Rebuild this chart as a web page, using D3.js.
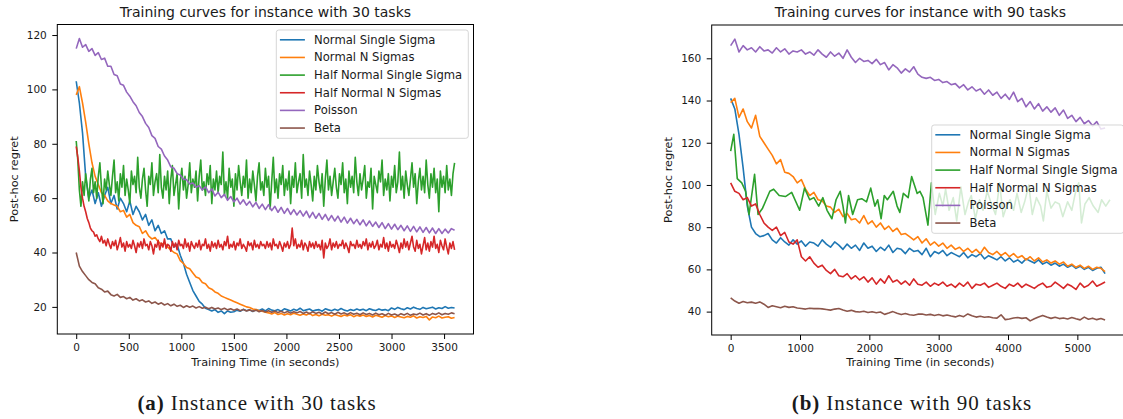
<!DOCTYPE html>
<html>
<head>
<meta charset="utf-8">
<script src="https://cdn.jsdelivr.net/npm/d3@7"></script>
<style>
  body { margin: 0; background: #fff; }
  svg { display: block; }
  text { font-family: "DejaVu Sans", sans-serif; fill: #1a1a1a; }
  text.caption { font-family: "Liberation Serif", serif; }
</style>
</head>
<body>
<svg id="fig" width="1123" height="419"></svg>
<script>
// ---------- shared series info ----------
const seriesNames = ["Normal Single Sigma", "Normal N Sigmas", "Half Normal Single Sigma",
                     "Half Normal N Sigmas", "Poisson", "Beta"];
const seriesColors = ["#1f77b4", "#ff7f0e", "#2ca02c", "#d62728", "#9467bd", "#8c564b"];

// ---------- 30-task instance (0 .. 3600 s) ----------
// most runs logged every 30 s, the two half-normal runs every 15 s
const times30 = d3.range(0, 3601, 30);
const times15 = d3.range(0, 3601, 15);
const normalSingle30 = [
  103, 95, 84, 68, 60, 63, 58, 62, 57, 61,
  64, 58, 61, 56, 60, 58, 55, 59, 54, 57,
  55, 52, 54, 50, 52, 48, 50, 47, 48, 45,
  45, 42, 43, 39, 36, 32, 29, 26, 24, 22,
  21, 19.5, 19, 18.5, 19, 18, 18.5, 17.5, 18.5, 18,
  18.2, 18.8, 18.4, 19.1, 18.6, 18.9, 18.3, 19.0, 18.7, 19.2,
  18.5, 19.4, 18.8, 18.6, 19.0, 18.4, 19.3, 18.9, 18.5, 19.1,
  18.7, 19.5, 18.6, 18.9, 19.2, 18.5, 18.8, 19.0, 18.4, 19.3,
  18.9, 18.6, 19.1, 18.7, 19.4, 18.8, 18.5, 19.0, 18.7, 19.2,
  18.8, 19.1, 18.6, 19.3, 18.9, 18.7, 19.2, 18.8, 19.0, 18.6,
  19.6, 19.1, 19.8, 19.3, 19.0, 19.7, 19.2, 19.9, 19.4, 19.1,
  19.8, 19.3, 19.6, 19.9, 19.2, 19.7, 19.4, 20.1, 19.5, 19.8,
  19.6
];
const normalN30 = [
  98, 101, 95, 88, 80, 73, 68, 65, 62, 61,
  59, 58, 57.5, 57, 55, 55.5, 53, 54, 51, 50,
  49.5, 47, 48, 46, 45, 45.5, 44, 43, 43.5, 42,
  41, 40, 39.5, 37, 36, 34.5, 34, 32.5, 31, 30.5,
  29, 28.5, 27, 26.5, 25.5, 25, 24, 23.5, 23, 22.5,
  22, 21.5, 21, 20.5, 20, 19.8, 19.2, 19.0, 18.6, 18.4,
  18.0, 17.8, 17.4, 17.9, 17.2, 17.6, 17.0, 17.5, 17.1, 17.7,
  17.3, 16.9, 17.4, 17.0, 17.6, 16.8, 17.2, 16.7, 17.3, 16.9,
  17.1, 16.6, 17.2, 16.8, 16.5, 17.0, 16.7, 17.1, 16.4, 16.9,
  16.6, 17.0, 16.5, 16.8, 16.3, 16.9, 16.6, 16.2, 16.8, 16.4,
  16.7, 16.1, 16.6, 16.3, 16.0, 16.5, 16.2, 16.7, 15.9, 16.4,
  16.1, 16.5, 15.2, 16.3, 16.0, 16.6, 15.9, 16.2, 16.4, 15.8,
  16.1
];
const halfNormalSingle30 = [
  81, 74, 63, 57, 66, 61, 69, 64, 59, 67,
  71, 62, 66, 60, 68, 73, 64, 58, 67, 63,
  70, 65, 61, 68, 74, 62, 66, 59, 69, 64,
  72, 61, 67, 63, 58, 70, 65, 68, 62, 75,
  64, 60, 67, 71, 63, 57, 68, 65, 73, 61,
  66, 69, 62, 76, 64, 60, 68, 63, 70, 58,
  67, 72, 61, 65, 69, 56, 66, 71, 63, 68,
  60, 65, 73, 62, 67, 64, 70, 59, 68, 74,
  63, 66, 61, 69, 65, 72, 58, 67, 63, 70,
  62, 68, 65, 77, 61, 66, 60, 71, 64, 67,
  57, 69, 63, 72, 66, 61, 68, 64, 74, 60,
  67, 62, 70, 65, 59, 68, 73, 63, 66, 61,
  71, 64, 68, 56, 66, 75, 62, 67, 60, 69,
  65, 72, 61, 67, 63, 70, 58, 68, 64, 73,
  62, 66, 69, 60, 76, 64, 67, 61, 70, 65,
  59, 68, 63, 72, 66, 62, 69, 57, 67, 74,
  63, 68, 61, 66, 71, 64, 60, 69, 65, 73,
  62, 67, 58, 70, 64, 68, 62, 75, 66, 61,
  69, 63, 67, 72, 60, 66, 64, 71, 56, 68,
  65, 62, 70, 66, 74, 61, 67, 63, 69, 59,
  68, 64, 72, 62, 66, 77, 63, 68, 60, 70,
  65, 61, 67, 73, 64, 69, 58, 66, 71, 63,
  68, 62, 74, 65, 60, 69, 64, 71, 62, 67,
  55, 70, 64, 68, 62, 72, 63, 67, 61, 69,
  73
];
const halfNormalN30 = [
  79, 75, 70, 64, 60, 57, 55, 52.5, 51, 49,
  48, 47.5, 46, 46.5, 45, 44, 46, 43.5, 44.5, 42.5,
  45, 43, 41.5, 44, 42.5, 44.5, 41, 43, 45.5, 42,
  43.5, 40.5, 44, 42, 43, 41.5, 44.5, 42.5, 40, 43.5,
  42, 44, 41.5, 45, 42.5, 43, 41, 44, 42.5, 39.5,
  43, 42, 44.5, 41, 43.5, 42, 45, 41.5, 43, 42.5,
  40.5, 44, 42, 43.5, 41, 44.5, 42.5, 43, 41.5, 45,
  42, 43.5, 40.5, 44, 42.5, 41.5, 43.5, 42, 44.5, 41,
  43, 42.5, 45, 41.5, 43, 40.5, 44, 42, 43.5, 41.5,
  44.5, 42, 43, 41, 44, 42.5, 46, 41.5, 43, 42,
  44, 41, 43.5, 42.5, 45, 41.5, 43, 42, 40.5, 44,
  42.5, 43.5, 41, 44.5, 42, 43, 41.5, 44, 42.5, 43,
  41.5, 44, 42, 43.5, 41, 45, 42.5, 43, 41.5, 44,
  42.5, 40.5, 43.5, 42, 44, 41.5, 43, 49, 42.5, 45,
  41.5, 43, 42, 44.5, 41, 43.5, 42.5, 40.5, 44, 42,
  43.5, 41.5, 44, 42, 43, 41, 44.5, 38, 43.5, 41.5,
  42.5, 45, 41, 43.5, 42, 44, 41.5, 43, 42.5, 44.5,
  41.5, 43.5, 42, 40, 44, 42.5, 43, 41.5, 44.5, 42,
  43, 41.5, 44, 42.5, 45, 41, 43.5, 42, 44, 41.5,
  42.5, 44.5, 41, 43, 42, 45.5, 41.5, 43.5, 40.5, 44,
  42, 43, 41.5, 44.5, 42.5, 40, 43.5, 41.5, 45, 42,
  44, 41, 43.5, 46, 42, 40.5, 44.5, 41.5, 43, 39.5,
  42.5, 45.5, 41, 43.5, 40.5, 44, 42, 46, 41.5, 43,
  40, 44.5, 42.5, 41, 45, 42, 39.5, 43.5, 41.5, 44,
  41
];
const poisson30 = [
  115, 118.7, 115.5, 116.5, 114, 115, 112.5, 113.5, 111, 111.5,
  108.5, 108.5, 105.5, 105, 102, 101.5, 99, 97.5, 95.5, 94,
  91.5, 90, 87.5, 86, 83, 82, 79, 78, 75.5, 74,
  71.5, 71, 69, 68.5, 67, 66.8, 65.2, 65.6, 64, 64.6,
  63, 64.2, 62, 63.4, 60.8, 62.2, 60.2, 61.4, 59.2, 60.6,
  58.6, 60, 57.8, 59.4, 57.4, 58.8, 56.8, 58.4, 56.2, 57.8,
  55.8, 57.6, 55.4, 57, 54.8, 56.6, 54.4, 56.2, 54, 55.8,
  53.8, 55.4, 53.4, 55.2, 52.8, 54.8, 52.6, 54.4, 52.2, 54,
  51.8, 53.6, 51.6, 53.4, 51.2, 53, 50.8, 52.6, 50.6, 52.2,
  50.2, 52, 49.8, 51.6, 49.6, 51.2, 49.2, 51, 48.8, 50.6,
  48.6, 50.4, 48.4, 50, 48, 49.8, 47.8, 49.6, 47.6, 49.4,
  47.4, 49.2, 47.2, 49, 47, 48.8, 47, 48.6, 47.2, 48.8,
  48.2
];
const beta30 = [
  40, 35, 33, 31.5, 30, 29, 28.5, 27, 26.5, 25.5,
  25.8, 24.5, 24, 24.6, 23.5, 23.8, 23, 23.5, 22.5, 23,
  22.2, 22.6, 21.8, 22.2, 21.3, 21.8, 21, 21.5, 20.7, 21.2,
  20.4, 21, 20.2, 20.6, 19.8, 20.4, 19.9, 20.3, 19.6, 20.1,
  19.5, 19.9, 19.3, 19.8, 19.2, 19.6, 19.0, 19.5, 18.9, 19.3,
  18.8, 19.2, 18.6, 19.0, 18.5, 18.9, 18.4, 18.8, 18.2, 18.7,
  18.1, 18.6, 18.0, 18.5, 17.9, 18.4, 17.8, 18.3, 17.7, 18.2,
  17.8, 18.3, 17.6, 18.1, 17.5, 18.2, 17.6, 18.0, 17.4, 18.1,
  17.5, 17.9, 17.3, 18.0, 17.4, 17.8, 17.2, 17.9, 17.3, 17.7,
  17.1, 17.8, 17.2, 17.6, 17.0, 17.7, 17.1, 17.5, 16.9, 17.6,
  17.0, 17.4, 16.8, 17.5, 17.0, 17.6, 16.9, 17.4, 17.1, 17.7,
  17.0, 17.5, 16.9, 17.6, 17.2, 17.8, 17.1, 17.6, 17.3, 17.8,
  17.5
];
const xTicks30 = [0, 500, 1000, 1500, 2000, 2500, 3000, 3500];
const yTicks30 = [20, 40, 60, 80, 100, 120];

// ---------- 90-task instance: post-hoc regret every 60 s (0 .. 5400 s) ----------
const times90 = d3.range(0, 5401, 60);
const normalSingle90 = [
  141, 136, 124, 108, 90, 80, 77, 75.5, 76, 77,
  74, 72.5, 75, 73, 71.5, 74, 72, 73.5, 71, 73,
  72.5, 71, 74, 72, 70.5, 73, 71.5, 69.5, 72, 70,
  71.5, 69, 72.5, 70, 71, 68.5, 70.5, 69, 71.5, 68,
  70, 69.5, 67.5, 70, 68.5, 69, 67, 70, 66, 68.5,
  67.5, 69, 66.5, 68, 67, 66, 68, 65.5, 67, 66,
  67.5, 65, 66.5, 65.5, 64.5, 66, 64, 65.5, 63.5, 64.5,
  63, 65, 64, 63, 64.5, 62.5, 63.5, 62, 63, 61.5,
  62.5, 61, 62, 60.5, 61.5, 60, 61, 59.5, 60.5, 61,
  58
];
const normalN90 = [
  139, 141, 132, 136, 130, 127, 133, 123, 120, 117,
  114, 110, 112, 106, 105.5, 104, 101, 102.5, 98, 95,
  96.5, 93, 92.5, 90, 89.5, 87, 88.5, 85, 86.5, 83.5,
  84, 82, 85.5, 81.5, 83, 80, 82, 79, 80.5, 78,
  79.5, 76.5, 77, 75.5, 74, 75.5, 72.5, 74.5, 71.5, 73,
  71, 72.5, 70, 71.5, 69.5, 70.5, 68.5, 70, 68, 69.5,
  67.5, 70.5, 68, 67, 68.5, 66.5, 68, 66, 67.5, 65.5,
  66.5, 64.5, 66, 64, 65.5, 63.5, 64.5, 63, 64, 62.5,
  63.5, 61.5, 62.5, 61, 62, 60.5, 61.5, 60, 61, 60.5,
  59
];
// Half Normal Single Sigma was logged at irregular times in this run
const halfNormalSingle90Times = [
  0, 45, 95, 160, 215, 265, 345, 395, 460, 565, 620, 700, 790, 880, 995, 1065,
  1140, 1200, 1270, 1330, 1390, 1460, 1520, 1580, 1620, 1655, 1700, 1760, 1830, 1890,
  1960, 2020, 2080, 2120, 2170, 2215, 2260, 2345, 2400, 2440, 2490, 2560, 2610, 2690,
  2730, 2775, 2845, 2895, 2950, 3010, 3060, 3100, 3150, 3210, 3260, 3320, 3380, 3430,
  3470, 3530, 3590, 3640, 3700, 3750, 3820, 3880, 3930, 3980, 4030, 4080, 4130, 4190,
  4240, 4300, 4350, 4410, 4470, 4510, 4560, 4620, 4680, 4740, 4790, 4860, 4920, 4970,
  5020, 5060, 5110, 5170, 5230, 5300, 5350, 5410, 5470
];
const halfNormalSingle90 = [
  116, 124, 103, 101, 97, 86, 105, 86, 89, 97, 98, 95, 94.5, 96.5, 88, 98.5,
  93, 94, 90, 94, 88, 84, 93, 97, 90, 82, 95, 86, 93, 93.5,
  92, 98.5, 90, 93, 84, 95, 93, 97, 90, 87, 96, 94, 104, 96,
  97, 94, 81, 101, 86, 96, 90, 98, 88, 94, 83, 99, 86, 92,
  95, 84, 93, 88, 97, 92, 86, 101, 85, 90, 93, 88, 96, 87,
  92, 100, 86, 94, 90, 83, 97, 89, 92, 91, 85, 92, 88, 96,
  101, 82, 91, 94, 90, 87, 93, 90, 93
];
const halfNormalN90 = [
  101, 97, 96, 93, 94, 90, 91, 86, 82, 80,
  78.5, 80, 76, 77.5, 73, 72, 74, 66, 64, 66,
  63, 61, 62, 59.5, 58, 60, 57, 56.5, 58, 55.5,
  57, 55, 56.5, 54, 56, 53, 55.5, 53.5, 57, 54,
  55, 53, 54.5, 52.5, 55.5, 53, 52.5, 54, 52, 53.5,
  52.5, 54, 52, 53, 51.5, 53.5, 52, 54, 51, 53,
  52.5, 53.5, 51.5, 52.5, 53.5, 52, 51, 53, 52, 53.5,
  51.5, 53, 52, 51, 52.5, 53.5, 51.5, 52, 54, 52.5,
  51, 53, 52, 50.5, 53.5, 51.5, 52.5, 54.5, 52, 53,
  54
];
const poisson90 = [
  166, 169.1, 163, 166, 164, 165, 163, 165.5, 163.5, 164,
  162.5, 165, 163, 164.5, 162, 163.5, 163, 164, 162, 163,
  161.5, 164, 162, 160.5, 163, 161, 162.5, 160, 164, 160.5,
  158, 160, 158.5, 159, 157.5, 159.5, 157, 158, 154.5, 157,
  155.5, 153, 155, 153.5, 156, 152.5, 151, 150.5, 151, 149.5,
  150, 148.5, 149, 147.5, 148, 146, 147.5, 145, 146.5, 144.5,
  145.5, 143, 145, 142.5, 144, 141, 143, 140.5, 144, 139.5,
  141, 137, 139.5, 136, 138.5, 135, 137, 134.5, 136.5, 133,
  135.5, 131.5, 133, 130, 132, 129, 130.5, 128, 130, 126.5,
  127
];
const beta90 = [
  46.5, 45, 44, 44.8, 44.2, 44.5, 44, 44.6, 43.5, 42,
  42.8, 42.3, 41.8, 42.5, 42, 42.3, 41.7, 41.5, 41.2, 41.6,
  41.4, 41.5, 41.3, 41, 40.7, 41.2, 41.5, 40.8, 40.2, 40.6,
  40, 39.8, 40.2, 39.6, 39.9, 39.5, 39.8, 38.7, 39.3, 40,
  39.2, 38.6, 39.1, 38.5, 38.3, 38.8, 38.9, 38.4, 38.7, 38.2,
  38.6, 38, 38.4, 37.9, 37.5, 38.2, 37.6, 38.9, 38, 37.4,
  37.8, 37.3, 37.6, 37.1, 36.9, 38.5, 36.2, 36.5, 37, 37.2,
  36.8, 37.1, 35.6, 36.6, 37.5, 38.2, 37.4, 36.8, 37.3, 36.7,
  37, 36.5, 37.2, 36.6, 36.1, 37.4, 36.4, 36.9, 36.2, 36.7,
  36
];
const xTicks90 = [0, 1000, 2000, 3000, 4000, 5000];
const yTicks90 = [40, 60, 80, 100, 120, 140, 160];

// ---------- drawing ----------
const svg = d3.select("#fig");

function padded(ext) {           // 5% margins on both sides
  const span = ext[1] - ext[0];
  return [ext[0] - 0.05 * span, ext[1] + 0.05 * span];
}

function drawPanel(p) {
  const g = svg.append("g");
  const series = p.series.map((s, i) => ({
    name: seriesNames[i], color: seriesColors[i],
    pts: s.values.map((v, k) => ({ t: s.times[k], v }))
  }));
  const allT = series.flatMap(s => s.pts.map(d => d.t));
  const allV = series.flatMap(s => s.pts.map(d => d.v));
  const x = d3.scaleLinear().domain(padded(d3.extent(allT))).range([p.left, p.right]);
  const y = d3.scaleLinear().domain(padded(d3.extent(allV))).range([p.bottom, p.top]);

  const clipId = "clip" + p.id;
  svg.append("clipPath").attr("id", clipId).append("rect")
    .attr("x", p.left).attr("y", p.top)
    .attr("width", p.right - p.left).attr("height", p.bottom - p.top);

  const line = d3.line().x(d => x(d.t)).y(d => y(d.v));
  g.append("g").attr("clip-path", `url(#${clipId})`)
    .selectAll("path").data(series).join("path")
    .attr("d", d => line(d.pts))
    .attr("fill", "none")
    .attr("stroke", d => d.color)
    .attr("stroke-width", 1.6)
    .attr("stroke-linejoin", "round");

  // axes
  const xAxis = d3.axisBottom(x).tickValues(p.xTicks).tickSize(5).tickPadding(5).tickSizeOuter(0)
    .tickFormat(d3.format("d"));
  const yAxis = d3.axisLeft(y).tickValues(p.yTicks).tickSize(5).tickPadding(5.5).tickSizeOuter(0)
    .tickFormat(d3.format("d"));
  const gx = g.append("g").attr("transform", `translate(0,${p.bottom})`).call(xAxis);
  const gy = g.append("g").attr("transform", `translate(${p.left},0)`).call(yAxis);
  [gx, gy].forEach(a => {
    a.select(".domain").remove();
    a.selectAll("line").attr("stroke", "#000").attr("stroke-width", 1);
    a.selectAll("text").attr("font-size", "10.5px").attr("fill", "#1a1a1a")
      .attr("font-family", '"DejaVu Sans", sans-serif');
  });

  // frame (spines)
  g.append("rect")
    .attr("x", p.left).attr("y", p.top)
    .attr("width", p.right - p.left).attr("height", p.bottom - p.top)
    .attr("fill", "none").attr("stroke", "#000").attr("stroke-width", 1);

  // title and axis labels
  g.append("text").attr("x", (p.left + p.right) / 2).attr("y", 17)
    .attr("text-anchor", "middle").attr("font-size", "14px").text(p.title);
  g.append("text").attr("x", (p.left + p.right) / 2).attr("y", 366)
    .attr("text-anchor", "middle").attr("font-size", "11.3px").text("Training Time (in seconds)");
  g.append("text")
    .attr("transform", `translate(${p.ylabelX},${(p.top + p.bottom) / 2}) rotate(-90)`)
    .attr("text-anchor", "middle").attr("dominant-baseline", "central")
    .attr("font-size", "11.3px").text("Post-hoc regret");

  // legend
  const lg = g.append("g").attr("transform", `translate(${p.legendX},${p.legendY})`);
  const rowH = 17.65;
  lg.append("rect").attr("x", 0).attr("y", 0).attr("width", 192).attr("height", 108.3)
    .attr("rx", 2.5).attr("fill", "#fff").attr("fill-opacity", 0.8)
    .attr("stroke", "#ccc").attr("stroke-opacity", 0.8).attr("stroke-width", 1);
  const rows = lg.selectAll("g.row").data(series).join("g")
    .attr("transform", (d, i) => `translate(0,${9.8 + i * rowH})`);
  rows.append("line").attr("x1", 3.6).attr("x2", 28.6)
    .attr("stroke", d => d.color).attr("stroke-width", 1.6);
  rows.append("text").attr("x", 37.8).attr("dominant-baseline", "central")
    .attr("font-size", "11.6px").text(d => d.name);

  // caption below the panel
  const cap = svg.append("text").attr("class", "caption")
    .attr("x", p.captionX).attr("y", 410).attr("text-anchor", "middle")
    .attr("font-size", "21px").attr("letter-spacing", "0.9px").attr("fill", "#111");
  cap.append("tspan").attr("font-weight", "bold").text(p.captionTag);
  cap.append("tspan").text(" " + p.captionText);
}

drawPanel({
  id: "a",
  series: [
    { times: times30, values: normalSingle30 },
    { times: times30, values: normalN30 },
    { times: times15, values: halfNormalSingle30 },
    { times: times15, values: halfNormalN30 },
    { times: times30, values: poisson30 },
    { times: times30, values: beta30 }
  ],
  left: 57.3, right: 473.5, top: 24.5, bottom: 334,
  xTicks: xTicks30, yTicks: yTicks30,
  title: "Training curves for instance with 30 tasks",
  ylabelX: 14.5, legendX: 276.3, legendY: 30,
  captionX: 257, captionTag: "(a)", captionText: "Instance with 30 tasks"
});

drawPanel({
  id: "b",
  series: [
    { times: times90, values: normalSingle90 },
    { times: times90, values: normalN90 },
    { times: halfNormalSingle90Times, values: halfNormalSingle90 },
    { times: times90, values: halfNormalN90 },
    { times: times90, values: poisson90 },
    { times: times90, values: beta90 }
  ],
  left: 711.7, right: 1128.9, top: 25, bottom: 335,
  xTicks: xTicks90, yTicks: yTicks90,
  title: "Training curves for instance with 90 tasks",
  ylabelX: 668, legendX: 931.7, legendY: 125,
  captionX: 912, captionTag: "(b)", captionText: "Instance with 90 tasks"
});
</script>
</body>
</html>
